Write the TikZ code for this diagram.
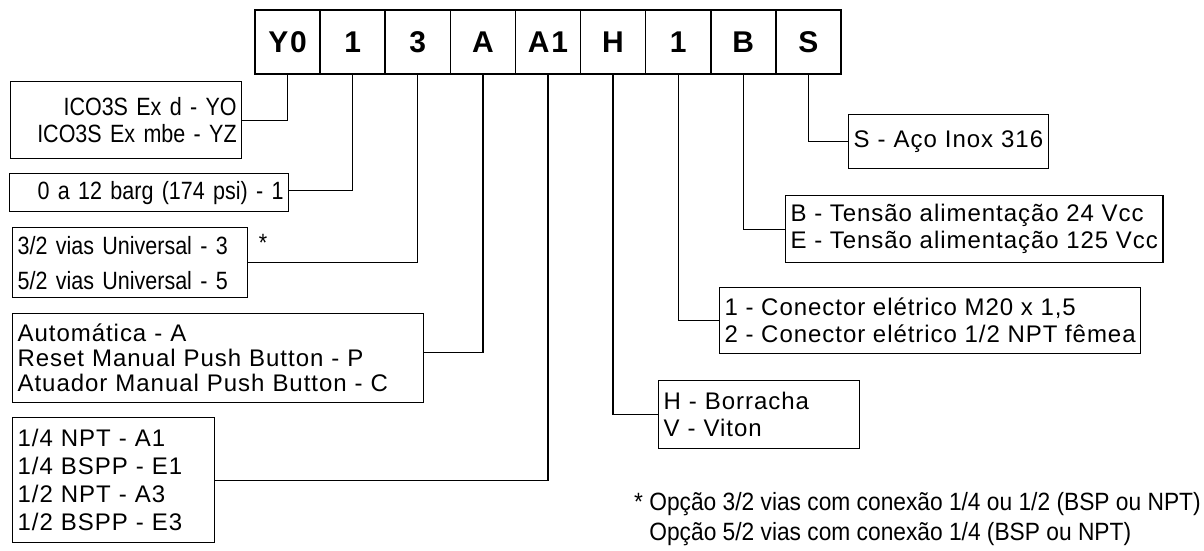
\documentclass[tikz,border=0pt]{standalone}
\usepackage{fontspec}
\setmainfont[LetterSpace=4]{Liberation Sans}
\newfontfamily\narrowfont[FakeStretch=0.86]{Liberation Sans}
\newfontfamily\notefont[FakeStretch=0.91]{Liberation Sans}
\newfontfamily\codefont[LetterSpace=6]{Liberation Sans}
\usetikzlibrary{positioning}

\begin{document}
\begin{tikzpicture}[x=1pt, y=-1pt,
	codebox/.style={draw, line width=1.6pt, minimum width=65.1pt, minimum height=64pt, inner sep=0pt, font=\codefont\fontsize{30}{30}\selectfont\bfseries},
	optbox/.style={draw, line width=1.3pt, anchor=north west, inner sep=5pt, align=left, font=\fontsize{24}{27}\selectfont},
	narrowbox/.style={optbox, font=\narrowfont\fontsize{25}{27}\selectfont},
	link/.style={line width=1.3pt}]
			\useasboundingbox (0,0) rectangle (1204,550);
			
			% code boxes
			\foreach \lbl [count=\i] in {Y0, 1, 3, A, A1, H, 1, B, S}
				\node[codebox] (c\i) at ({255+65.1*(\i-0.5)},42) {\lbl};
			
			% options on the left
			\node[narrowbox, align=right, text width=221pt, minimum height=77pt] (model) at (10,81) {ICO3S Ex d - YO\\ICO3S Ex mbe - YZ};
			\node[narrowbox, align=right, text width=269pt, minimum height=38pt] (press) at (9,173) {0 a 12 barg (174 psi) - 1};
			\node[narrowbox, font=\narrowfont\fontsize{25}{35}\selectfont, text width=225pt, minimum height=70pt] (vias) at (12,227) {3/2 vias Universal - 3\\5/2 vias Universal - 5};
			\node[optbox, font=\fontsize{24}{25}\selectfont, text width=401pt, minimum height=89pt] (oper) at (12,313) {Automática - A\\Reset Manual Push Button - P\\Atuador Manual Push Button - C};
			\node[optbox, font=\fontsize{24}{28}\selectfont, text width=192pt, minimum height=125pt] (conn) at (12,417) {1/4 NPT - A1\\1/4 BSPP - E1\\1/2 NPT - A3\\1/2 BSPP - E3};
			\node[font=\narrowfont\fontsize{25}{25}\selectfont] (star) at (263,243) {*};
			
			% options on the right
			\node[optbox, text width=190pt, minimum height=54pt] (steel) at (848,114) {S - Aço Inox 316};
			\node[optbox, minimum height=67pt] (volt) at (785,195) {B - Tensão alimentação 24 Vcc\\E - Tensão alimentação 125 Vcc};
			\node[optbox, minimum height=66pt] (elec) at (719,287) {1 - Conector elétrico M20 x 1,5\\2 - Conector elétrico 1/2 NPT fêmea};
			\node[optbox, text width=191pt, minimum height=68pt] (seal) at (658,380) {H - Borracha\\V - Viton};
			
			% note
			\node[anchor=north west, align=left, inner sep=0pt, font=\notefont\fontsize{25}{30}\selectfont] (note) at (634,492) {* Opção 3/2 vias com conexão 1/4 ou 1/2 (BSP ou NPT)\\\phantom{* }Opção 5/2 vias com conexão 1/4 (BSP ou NPT)};
			
			\draw[link] (c1.south) |- (model.east);
			\draw[link] (c2.south) |- ([yshift=2pt]press.east);
			\draw[link] (c3.south) |- (vias.east);
			\draw[link] (c4.south) |- ([yshift=6pt]oper.east);
			\draw[link] (c5.south) |- (conn.east);
			\draw[link] (c6.south) |- (seal.west);
			\draw[link] (c7.south) |- (elec.west);
			\draw[link] (c8.south) |- (volt.west);
			\draw[link] (c9.south) |- (steel.west);
			
			\end{tikzpicture}
\end{document}
